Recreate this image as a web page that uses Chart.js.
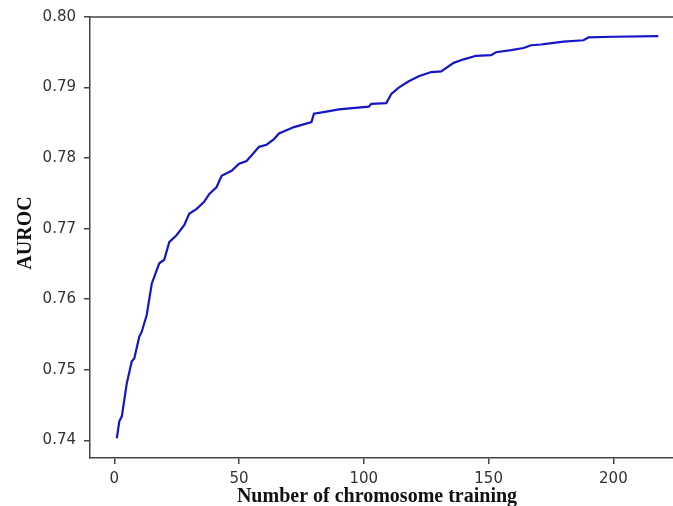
<!DOCTYPE html>
<html>
<head>
<meta charset="utf-8">
<script src="https://cdn.jsdelivr.net/npm/chart.js@4"></script>
<style>
  html, body { margin: 0; padding: 0; background: #fff; overflow: hidden; }
  canvas { display: block; }
</style>
</head>
<body>
<canvas id="chart-line" width="673" height="506"></canvas>
<script>
// values
const chromosomes = [1, 2, 3, 5, 7, 8, 10, 11, 13, 15, 18, 20, 22, 25, 28, 30, 33, 36, 38, 41,
  43, 47, 50, 53, 56, 58, 61, 64, 66, 72, 79, 80, 85, 90, 102, 103, 109, 111, 114, 118,
  122, 127, 131, 136, 140, 145, 151, 153, 159, 164, 167, 171, 173, 180, 188, 190, 200, 218];
const auroc = [0.7403, 0.7427, 0.7434, 0.7481, 0.7512, 0.7516, 0.7547, 0.7554, 0.7578, 0.7622,
  0.7651, 0.7656, 0.7681, 0.7691, 0.7705, 0.7721, 0.7728, 0.7738, 0.7749, 0.7759,
  0.7775, 0.7782, 0.7792, 0.7796, 0.7808, 0.7816, 0.7819, 0.7827, 0.7835, 0.7844,
  0.7851, 0.7863, 0.7866, 0.7869, 0.7873, 0.7877, 0.7878, 0.7891, 0.7900, 0.7909,
  0.7916, 0.7922, 0.7923, 0.7935, 0.7940, 0.7945, 0.7946, 0.7950, 0.7953, 0.7956,
  0.7960, 0.7961, 0.7962, 0.7965, 0.7967, 0.7971, 0.7972, 0.7973];
const xTicks = [0, 50, 100, 150, 200];
const yTicks = [0.74, 0.75, 0.76, 0.77, 0.78, 0.79, 0.80];
const xTitle = 'Number of chromosome training';
const yTitle = 'AUROC';

const axisColor = '#444';
const tickFont = { family: 'DejaVu Sans', size: 15 };

// top spine + matplotlib-like axis titles
const framePlugin = {
    id: 'frame',
    afterDraw(chart) {
        const { ctx, chartArea } = chart;
        ctx.save();
        ctx.strokeStyle = axisColor;
        ctx.lineWidth = 1.5;
        ctx.beginPath();
        ctx.moveTo(chartArea.left, chartArea.top);
        ctx.lineTo(chartArea.right, chartArea.top);
        ctx.stroke();

        ctx.fillStyle = '#111';
        ctx.font = 'bold 20px "Liberation Serif", "Times New Roman", serif';
        ctx.textAlign = 'center';
        ctx.textBaseline = 'alphabetic';
        ctx.fillText(xTitle, 377, 502);

        ctx.translate(31, 233);
        ctx.rotate(-Math.PI / 2);
        ctx.fillText(yTitle, 0, 0);
        ctx.restore();
    }
};

const ctx = document.getElementById('chart-line').getContext('2d');

new Chart(ctx, {
    type: 'line',
    data: {
        datasets: [{
            label: yTitle,
            data: chromosomes.map((c, i) => ({ x: c, y: auroc[i] })),
            borderColor: '#1616c8',
            borderWidth: 2.2,
            pointRadius: 0,
            tension: 0,
            fill: false
        }]
    },
    options: {
        responsive: false,
        animation: false,
        layout: { padding: { top: 15, right: 0, left: 0, bottom: 0 } },
        plugins: {
            legend: { display: false },
            tooltip: { enabled: false }
        },
        scales: {
            x: {
                type: 'linear',
                min: -9.75,
                max: 223.9,
                afterBuildTicks: s => { s.ticks = xTicks.map(v => ({ value: v })); },
                afterFit: s => { s.height = 48; },
                grid: { drawOnChartArea: false, drawTicks: true, tickLength: 6, color: axisColor, lineWidth: 1.5 },
                border: { display: true, color: axisColor, width: 1.5 },
                ticks: { font: tickFont, color: '#333', padding: 6, maxRotation: 0 }
            },
            y: {
                min: 0.7375,
                max: 0.80,
                afterBuildTicks: s => { s.ticks = yTicks.map(v => ({ value: v })); },
                afterFit: s => { s.width = 90; },
                grid: { drawOnChartArea: false, drawTicks: true, tickLength: 6, color: axisColor, lineWidth: 1.5 },
                border: { display: true, color: axisColor, width: 1.5 },
                ticks: {
                    font: tickFont,
                    color: '#333',
                    padding: 8,
                    callback: v => v.toFixed(2)
                }
            }
        }
    },
    plugins: [framePlugin]
});
</script>
</body>
</html>
